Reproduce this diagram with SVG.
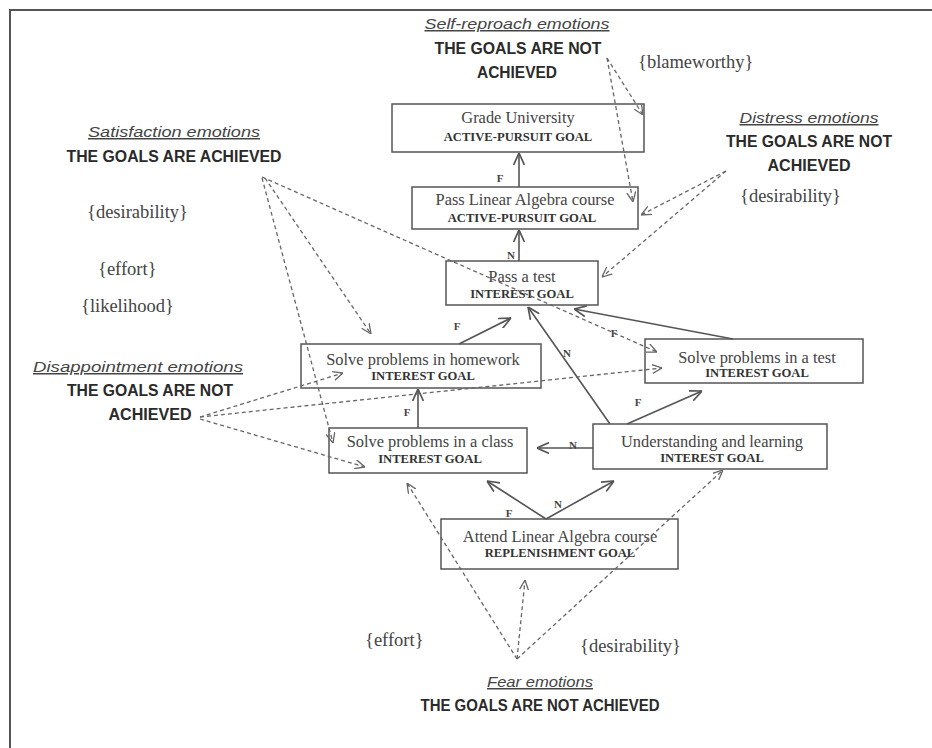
<svg xmlns="http://www.w3.org/2000/svg" width="932" height="748" viewBox="0 0 932 748">
<style>
.bx{fill:none;stroke:#555;stroke-width:1.5}
.t{font-family:"Liberation Serif",serif;font-size:16.4px;fill:#444;text-anchor:middle}
.s{font-family:"Liberation Serif",serif;font-size:12.6px;font-weight:bold;fill:#333;text-anchor:middle}
.h{font-family:"Liberation Sans",Arial,sans-serif;font-size:16px;font-weight:bold;fill:#2a2a2a;text-anchor:middle}
.e{font-family:"Liberation Sans",Arial,sans-serif;font-size:15px;font-style:italic;fill:#444;text-anchor:middle;text-decoration:underline}
.a{font-family:"Liberation Serif",serif;font-size:18.5px;fill:#444}
.lb{font-family:"Liberation Serif",serif;font-size:11px;font-weight:bold;fill:#444;text-anchor:middle}
.sl{stroke:#555;stroke-width:1.6;fill:none;marker-end:url(#ah)}
.dl{stroke:#666;stroke-width:1.3;fill:none;stroke-dasharray:4 3;marker-end:url(#ad)}
</style>
<defs>
<marker id="ah" viewBox="0 0 10 10" refX="10" refY="5" markerWidth="12" markerHeight="12" markerUnits="userSpaceOnUse" orient="auto">
<path d="M0,0.5 L10,5 L0,9.5" fill="none" stroke="#555" stroke-width="1.4"/>
</marker>
<marker id="ad" viewBox="0 0 10 10" refX="10" refY="5" markerWidth="10" markerHeight="10" markerUnits="userSpaceOnUse" orient="auto">
<path d="M0,0.5 L10,5 L0,9.5" fill="none" stroke="#666" stroke-width="1.3"/>
</marker>
</defs>
<rect x="0" y="0" width="932" height="748" fill="#fff"/>
<rect x="10" y="10" width="940" height="760" fill="none" stroke="#555" stroke-width="2"/>

<g id="grade-university">
<rect class="bx" x="392" y="104" width="252" height="48"/>
<text class="t" x="518" y="123">Grade University</text>
<text class="s" x="518" y="141">ACTIVE-PURSUIT GOAL</text>
</g>
<g id="pass-linear-algebra">
<rect class="bx" x="412" y="187" width="226" height="42"/>
<text class="t" x="525" y="205">Pass Linear Algebra course</text>
<text class="s" x="522" y="222">ACTIVE-PURSUIT GOAL</text>
</g>
<g id="pass-test">
<rect class="bx" x="446" y="261" width="152" height="44"/>
<text class="t" x="522" y="282">Pass a test</text>
<text class="s" x="522" y="298">INTEREST GOAL</text>
</g>
<g id="solve-homework">
<rect class="bx" x="301" y="344" width="240" height="44"/>
<text class="t" x="423" y="365">Solve problems in homework</text>
<text class="s" x="423" y="380">INTEREST GOAL</text>
</g>
<g id="solve-test">
<rect class="bx" x="645" y="339" width="218" height="44"/>
<text class="t" x="757" y="363">Solve problems in a test</text>
<text class="s" x="757" y="377">INTEREST GOAL</text>
</g>
<g id="solve-class">
<rect class="bx" x="329" y="428" width="198" height="45"/>
<text class="t" x="430" y="447">Solve problems in a class</text>
<text class="s" x="430" y="463">INTEREST GOAL</text>
</g>
<g id="understanding">
<rect class="bx" x="593" y="424" width="234" height="45"/>
<text class="t" x="712" y="447">Understanding and learning</text>
<text class="s" x="712" y="462">INTEREST GOAL</text>
</g>
<g id="attend-course">
<rect class="bx" x="441" y="519" width="237" height="50"/>
<text class="t" x="560" y="542">Attend Linear Algebra course</text>
<text class="s" x="560" y="557">REPLENISHMENT GOAL</text>
</g>

<g id="connectors">
<line class="sl" x1="519" y1="187" x2="519" y2="153"/>
<line class="sl" x1="519" y1="261" x2="519" y2="230"/>
<line class="sl" x1="459" y1="344" x2="511" y2="318"/>
<line class="sl" x1="610" y1="424" x2="528" y2="307"/>
<line class="sl" x1="733" y1="339" x2="574" y2="309"/>
<line class="sl" x1="627" y1="424" x2="702" y2="391"/>
<line class="sl" x1="593" y1="448" x2="537" y2="448"/>
<line class="sl" x1="418" y1="428" x2="418" y2="389"/>
<line class="sl" x1="546" y1="519" x2="487" y2="481"/>
<line class="sl" x1="546" y1="519" x2="614" y2="481"/>

<line class="dl" x1="607" y1="58" x2="643" y2="115"/>
<line class="dl" x1="607" y1="58" x2="633" y2="202"/>
<line class="dl" x1="726" y1="171" x2="641" y2="215"/>
<line class="dl" x1="726" y1="171" x2="602" y2="277"/>
<line class="dl" x1="262" y1="177" x2="657" y2="352"/>
<line class="dl" x1="265" y1="178" x2="371" y2="334"/>
<line class="dl" x1="262" y1="178" x2="333" y2="443"/>
<line class="dl" x1="200" y1="417" x2="343" y2="373"/>
<line class="dl" x1="200" y1="417" x2="662" y2="368"/>
<line class="dl" x1="200" y1="419" x2="365" y2="467"/>
<line class="dl" x1="517" y1="659" x2="407" y2="483"/>
<line class="dl" x1="517" y1="659" x2="525" y2="580"/>
<line class="dl" x1="517" y1="659" x2="723" y2="470"/>

<text class="lb" x="500" y="182">F</text>
<text class="lb" x="511" y="259">N</text>
<text class="lb" x="457" y="330">F</text>
<text class="lb" x="567" y="357">N</text>
<text class="lb" x="614" y="337">F</text>
<text class="lb" x="638" y="406">F</text>
<text class="lb" x="573" y="449">N</text>
<text class="lb" x="407" y="416">F</text>
<text class="lb" x="509" y="517">F</text>
<text class="lb" x="558" y="508">N</text>
</g>

<g id="self-reproach">
<text class="e" x="517" y="29" textLength="185" lengthAdjust="spacingAndGlyphs">Self-reproach emotions</text>
<text class="h" x="518" y="54" textLength="167" lengthAdjust="spacingAndGlyphs">THE GOALS ARE NOT</text>
<text class="h" x="517" y="78" textLength="80" lengthAdjust="spacingAndGlyphs">ACHIEVED</text>
<text class="a" x="638" y="68">{blameworthy}</text>
</g>
<g id="satisfaction">
<text class="e" x="174" y="137" textLength="172" lengthAdjust="spacingAndGlyphs">Satisfaction emotions</text>
<text class="h" x="174" y="162" textLength="215" lengthAdjust="spacingAndGlyphs">THE GOALS ARE ACHIEVED</text>
<text class="a" x="87" y="218">{desirability}</text>
<text class="a" x="98" y="275">{effort}</text>
<text class="a" x="81" y="312">{likelihood}</text>
</g>
<g id="distress">
<text class="e" x="809" y="123" textLength="139" lengthAdjust="spacingAndGlyphs">Distress emotions</text>
<text class="h" x="809" y="147" textLength="166" lengthAdjust="spacingAndGlyphs">THE GOALS ARE NOT</text>
<text class="h" x="809" y="171" textLength="83" lengthAdjust="spacingAndGlyphs">ACHIEVED</text>
<text class="a" x="740" y="202">{desirability}</text>
</g>
<g id="disappointment">
<text class="e" x="138" y="372" textLength="210" lengthAdjust="spacingAndGlyphs">Disappointment emotions</text>
<text class="h" x="150" y="396" textLength="166" lengthAdjust="spacingAndGlyphs">THE GOALS ARE NOT</text>
<text class="h" x="150" y="420" textLength="83" lengthAdjust="spacingAndGlyphs">ACHIEVED</text>
</g>
<g id="fear">
<text class="e" x="540" y="687" textLength="106" lengthAdjust="spacingAndGlyphs">Fear emotions</text>
<text class="h" x="540" y="711" textLength="239" lengthAdjust="spacingAndGlyphs">THE GOALS ARE NOT ACHIEVED</text>
<text class="a" x="365" y="646">{effort}</text>
<text class="a" x="580" y="652">{desirability}</text>
</g>
</svg>
